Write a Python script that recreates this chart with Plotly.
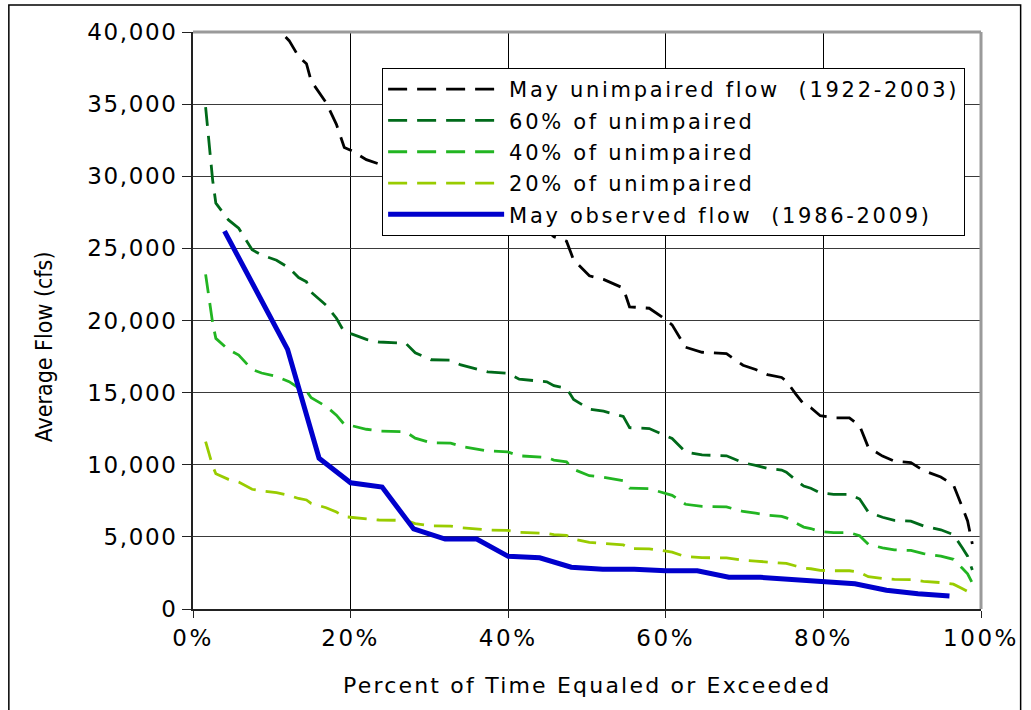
import plotly.graph_objects as go

# Flow-duration data for May (percent of time equaled or exceeded vs. average flow, cfs)
pct_unimpaired = [1.6, 2.0, 2.5, 2.9, 4.5, 5.8, 7.5, 8.7, 10.6, 12.2, 13.4, 14.4, 15.0, 16.9, 18.2,
                  19.2, 20.2, 22.0, 23.6, 27.0, 28.2, 30.2, 32.7, 34.0, 36.1, 37.4, 39.9, 41.4, 44.9,
                  45.8, 47.4, 48.3, 50.3, 52.1, 54.6, 55.4, 57.9, 59.5, 60.8, 62.5, 64.6, 67.7, 68.5,
                  69.8, 71.4, 72.9, 74.7, 75.3, 76.5, 77.5, 78.4, 79.6, 81.3, 83.3, 84.6, 85.7, 87.5,
                  89.0, 91.1, 92.7, 94.9, 96.5, 97.6, 98.3, 98.9]
flow_unimpaired = [58000, 53800, 49500, 46900, 44950, 44000, 41500, 40900, 40300, 39400, 38300, 37800,
                   36600, 35100, 33600, 32000, 31750, 31150, 30850, 30700, 29600, 28800, 28750, 28200,
                   27750, 27400, 27250, 26550, 26250, 25800, 25500, 24200, 23100, 22850, 22250, 20950,
                   20850, 20250, 19700, 18150, 17800, 17700, 17400, 16900, 16600, 16250, 16050, 15800,
                   14900, 14200, 13950, 13400, 13250, 13250, 12700, 11200, 10600, 10250, 10150, 9600,
                   9150, 8600, 7100, 6100, 4500]

pct_observed = [4, 8, 12, 16, 20, 24, 28, 32, 36, 40, 44, 48, 52, 56, 60, 64, 68, 72, 76, 80, 84, 88, 92, 96]
flow_observed = [26200, 22100, 18000, 10450, 8750, 8450, 5550, 4850, 4850, 3650, 3550, 2900, 2750, 2750,
                 2650, 2650, 2200, 2200, 2050, 1900, 1750, 1300, 1050, 900]

fractions = [0.6, 0.4, 0.2]
fraction_names = ["60% of unimpaired", "40% of unimpaired", "20% of unimpaired"]

x_ticks = [0, 20, 40, 60, 80, 100]
y_ticks = [0, 5000, 10000, 15000, 20000, 25000, 30000, 35000, 40000]

FONT = "DejaVu Sans, Liberation Sans, Arial, sans-serif"


def spaced(text, px):
    return f'<span style="letter-spacing:{px}px">{text}</span>'


fig = go.Figure()

dash = "19px,10px"
fig.add_trace(go.Scatter(
    x=pct_unimpaired, y=flow_unimpaired, mode="lines",
    name=spaced("May unimpaired flow  (1922-2003)", 2.7), legendgroup="a",
    line=dict(color="#000000", width=2.8, dash=dash)))

colors = ["#006a1a", "#22b522", "#99cc00"]
for i, (f, nm, c) in enumerate(zip(fractions, fraction_names, colors)):
    fig.add_trace(go.Scatter(
        x=pct_unimpaired, y=[f * v for v in flow_unimpaired], mode="lines",
        name=spaced(nm, 2.7), legendgroup=f"g{i}",
        line=dict(color=c, width=2.8, dash=dash)))

fig.add_trace(go.Scatter(
    x=pct_observed, y=flow_observed, mode="lines",
    name=spaced("May observed flow  (1986-2009)", 2.7), legendgroup="z",
    line=dict(color="#0000cc", width=5)))

tick_font = dict(family=FONT, size=23, color="black")

fig.update_xaxes(
    range=[0, 100], tickmode="array", tickvals=x_ticks,
    ticktext=[spaced(f"{v}%", 2.6) for v in x_ticks],
    showgrid=True, gridcolor="#000000", gridwidth=1,
    showline=True, linecolor="#222222", linewidth=2,
    ticks="outside", ticklen=7, tickcolor="#222222", tickwidth=1,
    tickfont=tick_font, zeroline=False)

fig.update_yaxes(
    range=[0, 40000], tickmode="array", tickvals=y_ticks,
    ticktext=[spaced(f"{v:,}", 1.6) for v in y_ticks],
    showgrid=True, gridcolor="#3a3a3a", gridwidth=1,
    showline=True, linecolor="#222222", linewidth=2,
    ticks="outside", ticklen=9, tickcolor="#222222", tickwidth=1,
    tickfont=tick_font, zeroline=False)

fig.update_layout(
    width=1031, height=710,
    margin=dict(l=193, r=42, t=32, b=101),
    paper_bgcolor="white", plot_bgcolor="white",
    showlegend=True,
    legend=dict(
        x=0.24, y=0.9376, xanchor="left", yanchor="top",
        bgcolor="white", bordercolor="black", borderwidth=1,
        font=dict(family=FONT, size=21, color="black"),
        itemwidth=116, tracegroupgap=1, traceorder="grouped"),
    annotations=[
        dict(text=spaced("Percent of Time Equaled or Exceeded", 2.2), xref="paper", yref="paper",
             x=0.5, y=-0.133, xanchor="center", yanchor="middle", showarrow=False,
             font=dict(family=FONT, size=22, color="black")),
        dict(text="Average Flow (cfs)", xref="paper", yref="paper",
             x=-0.188, y=0.455, xanchor="center", yanchor="middle", showarrow=False,
             textangle=-90,
             font=dict(family="Liberation Sans Narrow, Arial Narrow, DejaVu Sans Condensed, sans-serif",
                       size=23, color="black")),
    ],
    shapes=[
        # grey top and right edges of the plotting area
        dict(type="line", xref="paper", yref="paper", x0=0, x1=1, y0=1, y1=1,
             line=dict(color="#9a9a9a", width=3), layer="above"),
        dict(type="line", xref="paper", yref="paper", x0=1, x1=1, y0=0, y1=1,
             line=dict(color="#9a9a9a", width=3), layer="above"),
        # outer chart frame
        dict(type="rect", xref="paper", yref="paper", x0=-0.2337, x1=1.0503, y0=-0.2, y1=1.0468,
             line=dict(color="black", width=1.5), layer="below"),
    ],
)

fig.write_html("out.html")
